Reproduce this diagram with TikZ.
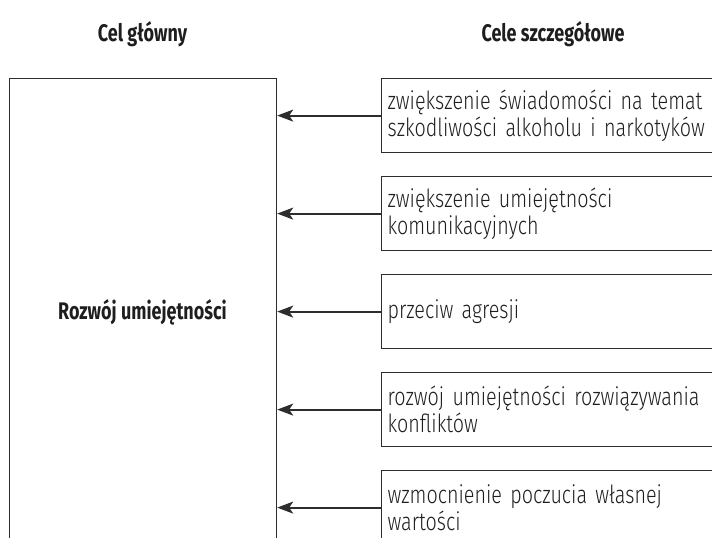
\documentclass[tikz,border=0pt]{standalone}
\usepackage{fontspec}
\setmainfont{Fira Sans}[FakeStretch=0.79, WordSpace=0.65, UprightFont=* Light]
\newfontfamily\headfont{Fira Sans}[FakeStretch=0.75]
\usetikzlibrary{arrows.meta}
\definecolor{box_line}{RGB}{45, 45, 45}
\definecolor{box_text}{RGB}{30, 30, 30}
\tikzstyle{goal}=[rectangle,draw=box_line,line width=1.2pt,anchor=north west,
  inner sep=0pt,minimum width=267pt,minimum height=480pt]
\tikzstyle{aim}=[rectangle,draw=box_line,line width=1.2pt,anchor=north west,
  inner xsep=6pt,inner ysep=0pt,text width=390pt,minimum height=74pt,
  align=left,text=box_text,font=\fontsize{25}{27}\selectfont]
\tikzstyle{head}=[text=box_text,font=\headfont\fontsize{24}{27}\selectfont\bfseries]
\tikzstyle{feed}=[draw=box_line,line width=1.8pt,
  -{Stealth[length=16pt,width=12pt,inset=4pt]}]
\tikzstyle{none}=[]

\begin{document}
\begin{tikzpicture}[x=1pt, y=-1pt]
            \useasboundingbox (0, 0) rectangle (712, 538);
            \clip (0, 0) rectangle (712, 538);
            \node [style=head] (0) at (142.5, 34) {Cel główny};
            \node [style=head] (1) at (553, 34) {Cele szczegółowe};
            \node [style=goal] (2) at (9, 78) {};
            \node [style=head] (3) at (142.5, 312) {Rozwój umiejętności};
            \node [style=aim] (4) at (381, 78) {zwiększenie świadomości na temat\\szkodliwości alkoholu i narkotyków};
            \node [style=aim] (5) at (381, 176) {zwiększenie umiejętności\\komunikacyjnych};
            \node [style=aim] (6) at (381, 274) {przeciw agresji};
            \node [style=aim] (7) at (381, 372) {rozwój umiejętności rozwiązywania\\konfliktów};
            \node [style=aim] (8) at (381, 470) {wzmocnienie poczucia własnej\\wartości};
            \draw [style=feed] (4.west) to (4.west -| 2.east);
            \draw [style=feed] (5.west) to (5.west -| 2.east);
            \draw [style=feed] (6.west) to (6.west -| 2.east);
            \draw [style=feed] (7.west) to (7.west -| 2.east);
            \draw [style=feed] (8.west) to (8.west -| 2.east);
    \end{tikzpicture}
\end{document}
